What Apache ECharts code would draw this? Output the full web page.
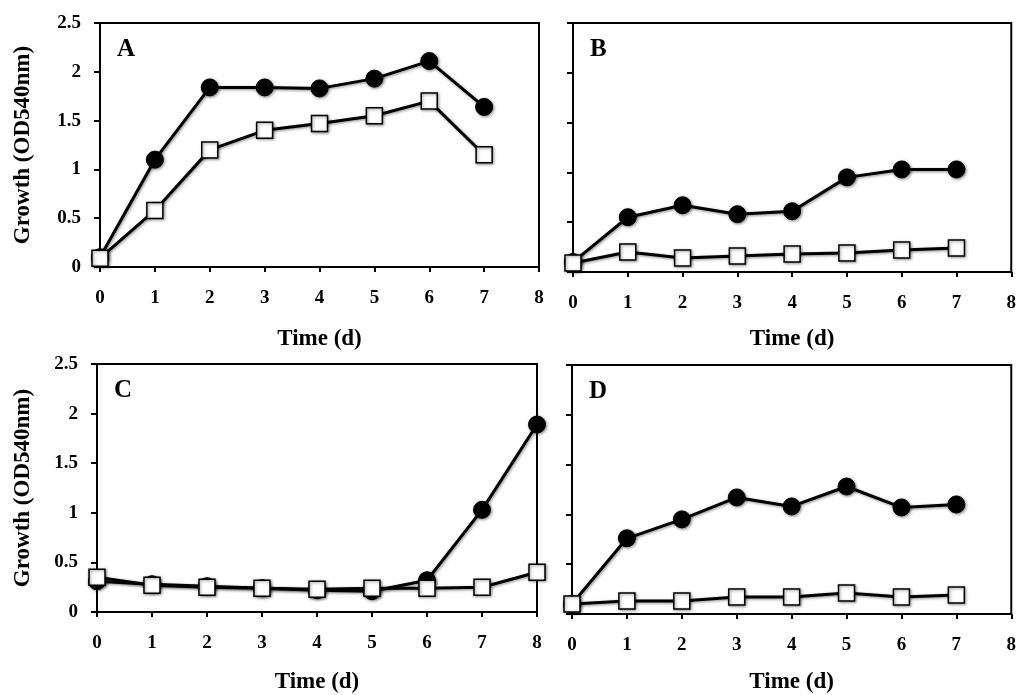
<!DOCTYPE html>
<html>
<head>
<meta charset="utf-8">
<script src="https://cdn.jsdelivr.net/npm/echarts@6/dist/echarts.min.js"></script>
<style>
  html, body { margin: 0; padding: 0; background: #fff; }
  #chart { width: 1019px; height: 695px; }
</style>
</head>
<body>
<div id="chart"></div>
<script>
  // days on the x axis
  var daysA = [0, 1, 2, 3, 4, 5, 6, 7];
  var daysC = [0, 1, 2, 3, 4, 5, 6, 7, 8];

  // panel A
  var aCircle = [0.1, 1.1, 1.84, 1.84, 1.83, 1.93, 2.11, 1.64];
  var aSquare = [0.09, 0.58, 1.2, 1.4, 1.47, 1.55, 1.7, 1.15];
  // panel B
  var bCircle = [0.1, 0.55, 0.67, 0.58, 0.61, 0.95, 1.03, 1.03];
  var bSquare = [0.09, 0.2, 0.14, 0.16, 0.18, 0.19, 0.22, 0.24];
  // panel C
  var cCircle = [0.31, 0.28, 0.26, 0.24, 0.22, 0.21, 0.32, 1.03, 1.89];
  var cSquare = [0.35, 0.27, 0.25, 0.24, 0.23, 0.24, 0.24, 0.25, 0.4];
  // panel D
  var dCircle = [0.1, 0.76, 0.95, 1.17, 1.08, 1.28, 1.07, 1.1];
  var dSquare = [0.1, 0.13, 0.13, 0.17, 0.17, 0.21, 0.17, 0.19];

  var yTicks = [0, 0.5, 1, 1.5, 2, 2.5];
  var xTicks = [0, 1, 2, 3, 4, 5, 6, 7, 8];
  var panelNames = ['A', 'B', 'C', 'D'];

  var font = '"Liberation Serif", "DejaVu Serif", serif';

  // plot boxes, with gaps for the axis titles
  var grids = [
    { left: 100, top: 23, width: 439, height: 244, xGap: 61, yGap: 65 },
    { left: 573, top: 23, width: 440, height: 249, xGap: 56, yGap: 65 },
    { left: 97, top: 364, width: 440, height: 248, xGap: 59, yGap: 62 },
    { left: 572, top: 365, width: 441, height: 249, xGap: 57, yGap: 62 }
  ];

  function pairs(xs, ys) {
    return ys.map(function (v, i) { return [xs[i], v]; });
  }

  var xAxes = [], yAxes = [], series = [], titles = [], gridOpts = [];
  grids.forEach(function (g, i) {
    gridOpts.push({
      left: g.left, top: g.top, width: g.width, height: g.height,
      show: true, borderColor: '#000', borderWidth: 2, backgroundColor: 'transparent'
    });
    xAxes.push({
      gridIndex: i, type: 'value', min: xTicks[0], max: xTicks[xTicks.length - 1], interval: 1,
      name: 'Time (d)', nameLocation: 'middle', nameGap: g.xGap,
      nameTextStyle: { fontFamily: font, fontWeight: 'bold', fontSize: 23, color: '#000' },
      axisLine: { lineStyle: { color: '#000', width: 2 } },
      axisTick: { show: true, length: 5, lineStyle: { color: '#000', width: 2 } },
      axisLabel: { margin: 22, fontFamily: font, fontWeight: 'bold', fontSize: 19, color: '#000' },
      splitLine: { show: false }
    });
    var labelled = (i % 2 === 0);
    yAxes.push({
      gridIndex: i, type: 'value', min: yTicks[0], max: yTicks[yTicks.length - 1], interval: 0.5,
      name: labelled ? 'Growth (OD540nm)' : '', nameLocation: 'middle', nameGap: g.yGap, nameRotate: 90,
      nameTextStyle: { fontFamily: font, fontWeight: 'bold', fontSize: 23, color: '#000' },
      axisLine: { lineStyle: { color: '#000', width: 2 } },
      axisTick: { show: true, length: 6, lineStyle: { color: '#000', width: 2 } },
      axisLabel: { show: labelled, margin: 19, fontFamily: font, fontWeight: 'bold', fontSize: 19, color: '#000' },
      splitLine: { show: false }
    });
    titles.push({
      text: panelNames[i],
      left: g.left + 12,
      top: g.top + 9,
      textStyle: { fontFamily: font, fontWeight: 'bold', fontSize: 25, color: '#000' }
    });
  });

  var shadow = { shadowBlur: 3, shadowColor: 'rgba(0,0,0,0.45)', shadowOffsetX: 1, shadowOffsetY: 1 };

  function circleSeries(idx, data) {
    return {
      type: 'line', xAxisIndex: idx, yAxisIndex: idx, data: data,
      symbol: 'circle', symbolSize: 17, showAllSymbol: true,
      lineStyle: Object.assign({ color: '#000', width: 3 }, shadow),
      itemStyle: Object.assign({ color: '#000', borderColor: '#000', borderWidth: 1 }, shadow),
      z: 2, animation: false
    };
  }
  function squareSeries(idx, data) {
    return {
      type: 'line', xAxisIndex: idx, yAxisIndex: idx, data: data,
      symbol: 'rect', symbolSize: 16, showAllSymbol: true,
      lineStyle: Object.assign({ color: '#000', width: 3 }, shadow),
      itemStyle: Object.assign({ color: '#fff', borderColor: '#000', borderWidth: 1.5 }, shadow),
      z: 3, animation: false
    };
  }

  series.push(circleSeries(0, pairs(daysA, aCircle)));
  series.push(squareSeries(0, pairs(daysA, aSquare)));
  series.push(circleSeries(1, pairs(daysA, bCircle)));
  series.push(squareSeries(1, pairs(daysA, bSquare)));
  series.push(circleSeries(2, pairs(daysC, cCircle)));
  series.push(squareSeries(2, pairs(daysC, cSquare)));
  series.push(circleSeries(3, pairs(daysA, dCircle)));
  series.push(squareSeries(3, pairs(daysA, dSquare)));

  var chart = echarts.init(document.getElementById('chart'), null, { renderer: 'canvas' });
  chart.setOption({
    animation: false,
    backgroundColor: '#fff',
    title: titles,
    grid: gridOpts,
    xAxis: xAxes,
    yAxis: yAxes,
    series: series
  });
</script>
</body>
</html>
